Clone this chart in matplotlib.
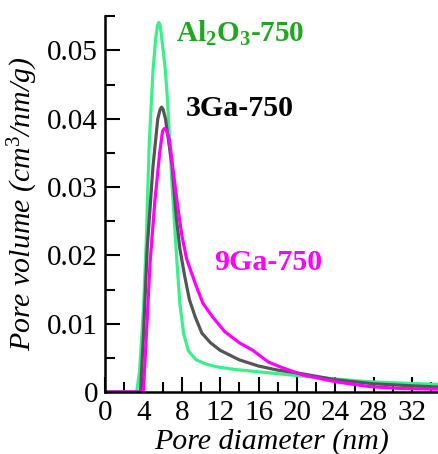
import matplotlib
matplotlib.use('Agg')

import matplotlib.pyplot as plt
from matplotlib.ticker import MultipleLocator

plt.rcParams['font.family'] = ['Liberation Serif', 'DejaVu Serif']
plt.rcParams['mathtext.fontset'] = 'custom'
plt.rcParams['mathtext.rm'] = 'Liberation Serif'
plt.rcParams['mathtext.it'] = 'Liberation Serif:italic'
plt.rcParams['mathtext.bf'] = 'Liberation Serif:bold'

# Al2O3-750
al_x = [0, 3.3, 3.6, 4.0, 4.3, 4.6, 5.0, 5.3, 5.5, 5.6, 5.75, 5.9, 6.3, 6.5, 7.0, 7.5,
        7.8, 8.2, 8.7, 9.5, 10.5, 11.6, 13.5, 16.4, 20, 24, 27.5, 31, 35]
al_y = [0, 0, 0.003, 0.012, 0.022, 0.036, 0.047, 0.052, 0.0538, 0.0541, 0.0537,
        0.052, 0.047, 0.043, 0.030, 0.019, 0.013, 0.0085, 0.006, 0.0047, 0.0041,
        0.0037, 0.0033, 0.0029, 0.0024, 0.0019, 0.0015, 0.0013, 0.0011]

# 3Ga-750
ga3_x = [0, 3.7, 4.0, 4.4, 5.0, 5.5, 5.75, 5.9, 6.05, 6.3, 7.0, 7.4, 7.8, 8.3, 8.8,
         9.4, 10.1, 11, 12, 14, 16, 18, 20, 24, 28, 32, 35]
ga3_y = [0, 0, 0.008, 0.021, 0.033, 0.040, 0.0414, 0.0417, 0.0414, 0.040, 0.033,
         0.026, 0.021, 0.017, 0.0135, 0.011, 0.0086, 0.0072, 0.0061, 0.0047, 0.0038,
         0.0032, 0.0028, 0.0018, 0.0012, 0.0009, 0.0007]

# 9Ga-750
ga9_x = [0, 4.0, 4.3, 4.7, 5.2, 5.7, 6.0, 6.2, 6.4, 6.7, 7.5, 8.0, 8.5, 9.4, 10.2,
         11.2, 12.5, 14, 15.4, 17, 18.2, 20.6, 24, 27.5, 31, 35]
ga9_y = [0, 0, 0.008, 0.019, 0.028, 0.035, 0.0382, 0.0386, 0.0383, 0.037, 0.028,
         0.023, 0.0195, 0.0159, 0.013, 0.011, 0.0088, 0.0072, 0.0061, 0.0044,
         0.0037, 0.0025, 0.0015, 0.0008, 0.0005, 0.0004]

fig = plt.figure(figsize=(4.38, 4.54), dpi=100)
ax = fig.add_axes([0.2397, 0.1366, 0.7603, 0.8282])

ax.plot(al_x, al_y, color='#3af08c', lw=2.3)
ax.plot(ga3_x, ga3_y, color='#555555', lw=2.3)
ax.plot(ga9_x, ga9_y, color='#ff00ff', lw=2.3)

ax.set_xlim(0, 34.7)
ax.set_ylim(0, 0.05505)

ax.xaxis.set_major_locator(MultipleLocator(4))
ax.xaxis.set_minor_locator(MultipleLocator(2))
ax.yaxis.set_minor_locator(MultipleLocator(0.005))
ax.set_yticks([0, 0.01, 0.02, 0.03, 0.04, 0.05])
ax.set_yticklabels(['0', '0.01', '0.02', '0.03', '0.04', '0.05'])

ax.tick_params(which='both', direction='in', width=1.5, labelsize=21)
ax.tick_params(which='major', length=11)
ax.tick_params(which='minor', length=7)
ax.tick_params(axis='x', pad=6)
ax.tick_params(axis='y', pad=5)

for s in ['top', 'right']:
    ax.spines[s].set_visible(False)
for s in ['left', 'bottom']:
    ax.spines[s].set_linewidth(1.8)

ax.set_xlabel('Pore diameter (nm)', fontsize=21.5, style='italic', labelpad=1)
ax.set_ylabel(r'Pore volume (cm$^\mathit{3}$/nm/g)', fontsize=21.5, style='italic',
              labelpad=5)

ax.text(7.4, 0.0525, r'Al$_\mathbf{2}$O$_\mathbf{3}$-750', color='#1fa81f',
        fontsize=21, fontweight='bold', va='center')
ax.text(8.4, 0.0415, '3Ga-750', color='black', fontsize=21.5, fontweight='bold',
        va='center')
ax.text(11.4, 0.0190, '9Ga-750', color='#ff00ff', fontsize=21.5, fontweight='bold',
        va='center')

fig.savefig('out.png', dpi=100)
